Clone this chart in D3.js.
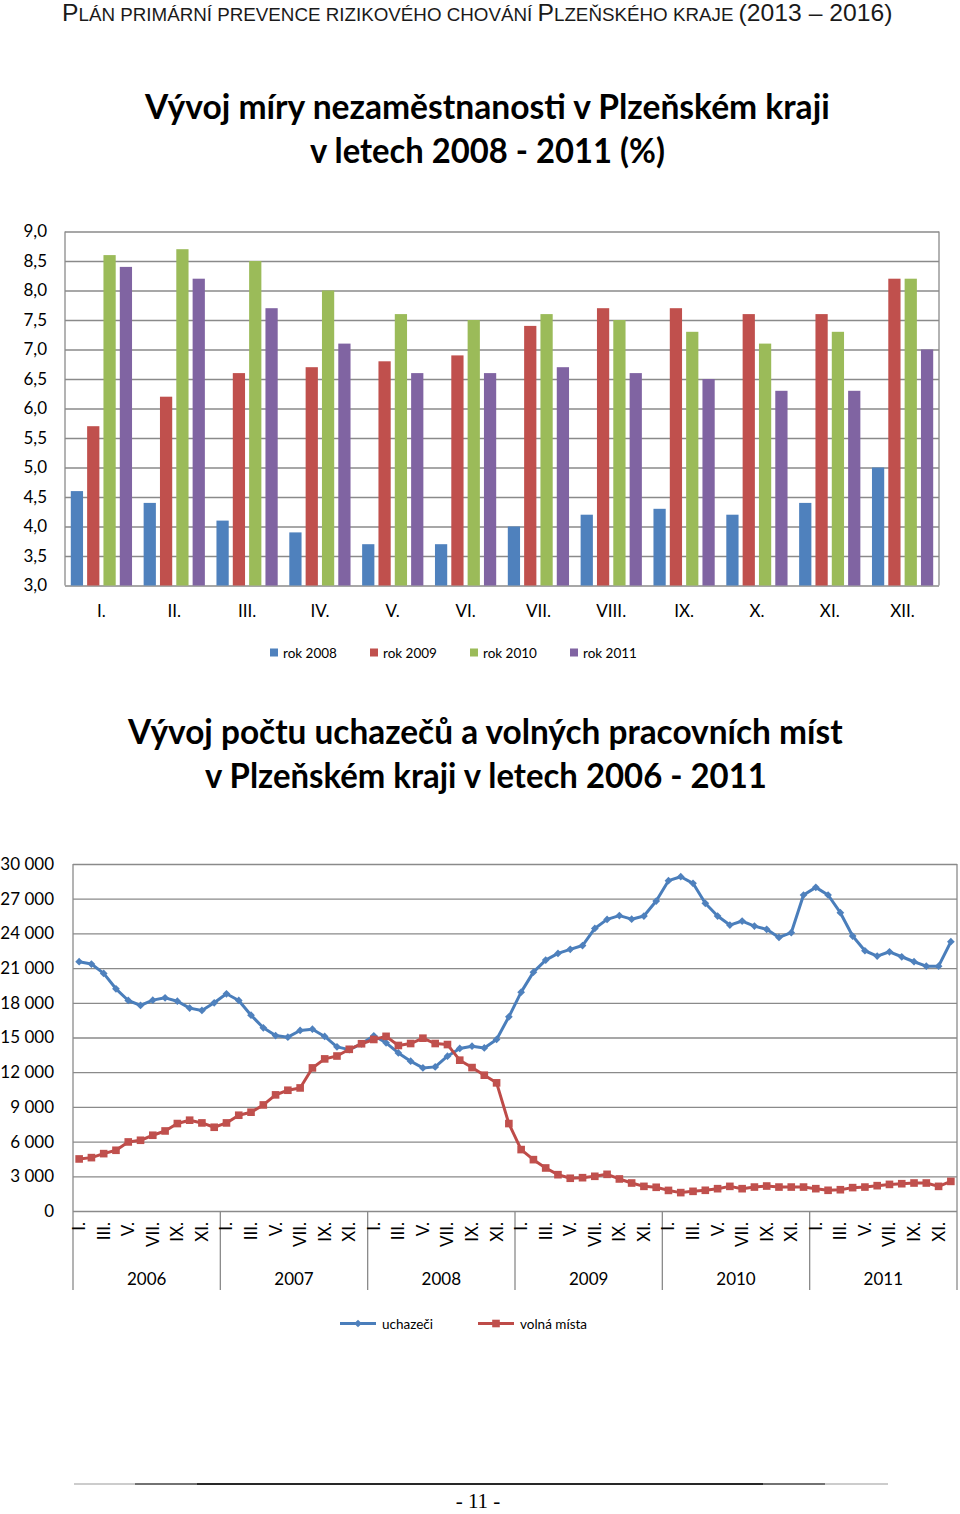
<!DOCTYPE html>
<html><head><meta charset="utf-8">
<script src="https://cdn.jsdelivr.net/npm/d3@7"></script>
<style>body{margin:0;background:#fff} svg{display:block} text{font-family:Lato, 'Open Sans', sans-serif}</style>
</head><body><svg id="c" width="960" height="1514"></svg>
<script>
// ---------- DATA ----------
const months = ["I.","II.","III.","IV.","V.","VI.","VII.","VIII.","IX.","X.","XI.","XII."];
const barSeries = ["rok 2008","rok 2009","rok 2010","rok 2011"];
const rate2008 = [4.6,4.4,4.1,3.9,3.7,3.7,4.0,4.2,4.3,4.2,4.4,5.0];
const rate2009 = [5.7,6.2,6.6,6.7,6.8,6.9,7.4,7.7,7.7,7.6,7.6,8.2];
const rate2010 = [8.6,8.7,8.5,8.0,7.6,7.5,7.6,7.5,7.3,7.1,7.3,8.2];
const rate2011 = [8.4,8.2,7.7,7.1,6.6,6.6,6.7,6.6,6.5,6.3,6.3,7.0];
const barTicks = [3.0,3.5,4.0,4.5,5.0,5.5,6.0,6.5,7.0,7.5,8.0,8.5,9.0];

const years = ["2006","2007","2008","2009","2010","2011"];
const lineSeries = ["uchazeči","volná místa"];
const uchazeci = [
  21550,21350,20540,19210,18200,17770,18230,18430,18140,17540,17340,18000,
  18780,18200,16930,15840,15170,15030,15610,15720,15090,14190,13950,14450,
  15150,14540,13670,12950,12370,12460,13380,14050,14250,14100,14830,16790,
  18920,20650,21690,22270,22620,22950,24430,25210,25540,25230,25500,26800,
  28560,28900,28330,26600,25500,24720,25070,24630,24350,23650,24060,27320,
  27980,27320,25790,23770,22500,22040,22410,21980,21550,21170,21170,23280];
const volnaMista = [
  4500,4615,4960,5250,5970,6115,6550,6920,7560,7850,7615,7240,
  7615,8280,8540,9170,10040,10440,10640,12370,13150,13400,13980,14460,
  14830,15100,14310,14480,14940,14480,14390,13040,12400,11740,11080,7560,
  5310,4440,3720,3140,2830,2880,3000,3170,2770,2420,2130,2050,
  1780,1590,1700,1790,1930,2130,1930,2070,2160,2070,2070,2070,
  1930,1790,1840,2020,2070,2190,2300,2360,2420,2420,2130,2560];
const lineTicks = [0,3000,6000,9000,12000,15000,18000,21000,24000,27000,30000];
const shownMonths = ["I.","III.","V.","VII.","IX.","XI."];

// ---------- SETUP ----------
const svg = d3.select("#c");
const gridCol = "#8a8a8a";
const barColors = ["#4F81BD","#C0504D","#9BBB59","#8064A2"];
const lineColors = ["#4A7EBB","#BE4B48"];
const markerColors = ["#4F81BD","#C0504D"];

function fitText(t, x0, x1, baseline){
  const w = t.node().getComputedTextLength();
  t.attr("x",0).attr("y",0).attr("transform",`translate(${x0},${baseline}) scale(${(x1-x0)/w},1)`);
}

// header
const hdr = svg.append("text").attr("fill","#1a1a1a").style("font-family","'Liberation Sans', Arial, sans-serif");
[["P",23],["LÁN PRIMÁRNÍ PREVENCE RIZIKOVÉHO CHOVÁNÍ ",17.5],["P",23],["LZEŇSKÉHO KRAJE ",17.5],["(2013 – 2016)",23]]
  .forEach(([s,fs]) => hdr.append("tspan").attr("font-size",fs).text(s));
fitText(hdr, 62, 893, 21);

function title(str, x0, x1, base){
  const t = svg.append("text").attr("font-size",34).attr("font-weight",700).attr("fill","#000").text(str);
  fitText(t, x0, x1, base);
}
title("Vývoj míry nezaměstnanosti v Plzeňském kraji", 145, 830, 119);
title("v letech 2008 - 2011 (%)", 310, 665, 163);
title("Vývoj počtu uchazečů a volných pracovních míst", 128, 843, 744);
title("v Plzeňském kraji v letech 2006 - 2011", 205, 767, 788);

// ---------- BAR CHART ----------
const bx0 = 65, bx1 = 939, by0 = 585.5, by1 = 231.5;
const xb0 = d3.scaleBand().domain(months).range([bx0,bx1]);
const xb1 = d3.scaleBand().domain(barSeries).range([5.8, xb0.bandwidth()-5.8]).paddingInner(0.25);
const yb = d3.scaleLinear().domain([3,9]).range([by0,by1]);
const fmtComma = d => d3.format(".1f")(d).replace(".",",");

const gyb = svg.append("g").attr("transform",`translate(${bx0},0)`)
  .call(d3.axisLeft(yb).tickValues(barTicks).tickSize(-(bx1-bx0)).tickPadding(18).tickFormat(fmtComma));
gyb.select(".domain").remove();
gyb.selectAll("line").attr("stroke",gridCol).attr("stroke-width",1.3);
gyb.selectAll("text").attr("font-size",17).attr("fill","#000").style("font-family","Lato");

svg.append("line").attr("x1",bx0).attr("x2",bx0).attr("y1",by1).attr("y2",by0).attr("stroke",gridCol).attr("stroke-width",1.3);
svg.append("line").attr("x1",bx1).attr("x2",bx1).attr("y1",by1).attr("y2",by0).attr("stroke",gridCol).attr("stroke-width",1.3);

const barData = [rate2008, rate2009, rate2010, rate2011];
barSeries.forEach((s,si) => {
  svg.append("g").selectAll("rect").data(barData[si]).join("rect")
    .attr("x",(d,i)=> xb0(months[i]) + xb1(s))
    .attr("y",d=> yb(d))
    .attr("width", xb1.bandwidth())
    .attr("height", d=> yb(3)-yb(d))
    .attr("fill", barColors[si]);
});

const gxb = svg.append("g").attr("transform",`translate(0,${by0})`)
  .call(d3.axisBottom(xb0).tickSize(0).tickPadding(19));
gxb.select(".domain").remove();
gxb.selectAll("text").attr("font-size",17).attr("fill","#000").style("font-family","Lato");

// bar legend
const blX = [270,370,470,570];
barSeries.forEach((s,i) => {
  svg.append("rect").attr("x",blX[i]).attr("y",648.5).attr("width",8).attr("height",8).attr("fill",barColors[i]);
  svg.append("text").attr("x",blX[i]+13).attr("y",657.5).attr("font-size",13.5).attr("fill","#000").text(s);
});

// ---------- LINE CHART ----------
const lx0 = 73, lx1 = 957, ly0 = 1211, ly1 = 864;
const cats = years.flatMap(y => months.map(m => y+"|"+m));
const xl = d3.scalePoint().domain(cats).range([lx0,lx1]).padding(0.5);
const yl = d3.scaleLinear().domain([0,30000]).range([ly0,ly1]);
const loc = d3.formatLocale({decimal:",", thousands:"\u00a0", grouping:[3], currency:["",""]});
const fmtTh = loc.format(",d");

const gyl = svg.append("g").attr("transform",`translate(${lx0},0)`)
  .call(d3.axisLeft(yl).tickValues(lineTicks).tickSize(-(lx1-lx0)).tickPadding(19).tickFormat(fmtTh));
gyl.select(".domain").remove();
gyl.selectAll("line").attr("stroke",gridCol).attr("stroke-width",1.3);
gyl.selectAll("text").attr("font-size",17).attr("fill","#000").style("font-family","Lato");

const step = xl.step();
years.forEach((y,k) => {
  const xs = xl(y+"|I.") - step/2;
  svg.append("line").attr("x1",xs).attr("x2",xs).attr("y1", k===0 ? ly1 : ly0).attr("y2",1290).attr("stroke",gridCol).attr("stroke-width",1.3);
});
svg.append("line").attr("x1",lx1).attr("x2",lx1).attr("y1",ly1).attr("y2",1290).attr("stroke",gridCol).attr("stroke-width",1.3);

cats.forEach(c => {
  const m = c.split("|")[1];
  if (!shownMonths.includes(m)) return;
  svg.append("text").attr("transform",`translate(${xl(c)},1222) rotate(-90)`)
    .attr("text-anchor","end").attr("dy","0.35em").attr("font-size",17).attr("fill","#000").text(m);
});
years.forEach(y => {
  const xc = (xl(y+"|I.") + xl(y+"|XII."))/2;
  svg.append("text").attr("x",xc).attr("y",1285).attr("text-anchor","middle").attr("font-size",17).attr("fill","#000").text(y);
});

const lineData = [uchazeci, volnaMista];
const lineGen = d3.line().x((d,i)=> xl(cats[i])).y(d=> yl(d));
lineData.forEach((arr,si) => {
  svg.append("path").datum(arr).attr("d",lineGen).attr("fill","none").attr("stroke",lineColors[si]).attr("stroke-width",3).attr("stroke-linejoin","round");
});
const diamond = d3.symbol(d3.symbolSquare, 30);
const square = d3.symbol(d3.symbolSquare, 58);
svg.append("g").selectAll("path").data(uchazeci).join("path")
  .attr("d", diamond).attr("transform",(d,i)=>`translate(${xl(cats[i])},${yl(d)}) rotate(45)`).attr("fill",markerColors[0]);
svg.append("g").selectAll("path").data(volnaMista).join("path")
  .attr("d", square).attr("transform",(d,i)=>`translate(${xl(cats[i])},${yl(d)})`).attr("fill",markerColors[1]);

const llX = [340,478];
lineSeries.forEach((s,i) => {
  svg.append("line").attr("x1",llX[i]).attr("x2",llX[i]+36).attr("y1",1323.5).attr("y2",1323.5).attr("stroke",lineColors[i]).attr("stroke-width",3);
  svg.append("path").attr("d", i===0 ? diamond() : square())
    .attr("transform", `translate(${llX[i]+18},1323.5)` + (i===0 ? " rotate(45)" : "")).attr("fill",markerColors[i]);
  svg.append("text").attr("x",llX[i]+42).attr("y",1328.5).attr("font-size",13.5).attr("fill","#000").text(s);
});

// ---------- FOOTER ----------
svg.append("line").attr("x1",74).attr("x2",888).attr("y1",1484).attr("y2",1484).attr("stroke","#999").attr("stroke-width",1);
svg.append("line").attr("x1",135).attr("x2",825).attr("y1",1484).attr("y2",1484).attr("stroke","#555").attr("stroke-width",1.3);
svg.append("line").attr("x1",197).attr("x2",763).attr("y1",1484).attr("y2",1484).attr("stroke","#111").attr("stroke-width",1.6);
svg.append("text").attr("x",478).attr("y",1508).attr("text-anchor","middle").attr("font-size",21)
  .style("font-family","'Liberation Serif', 'Times New Roman', serif").attr("fill","#000").text("- 11 -");
</script></body></html>
